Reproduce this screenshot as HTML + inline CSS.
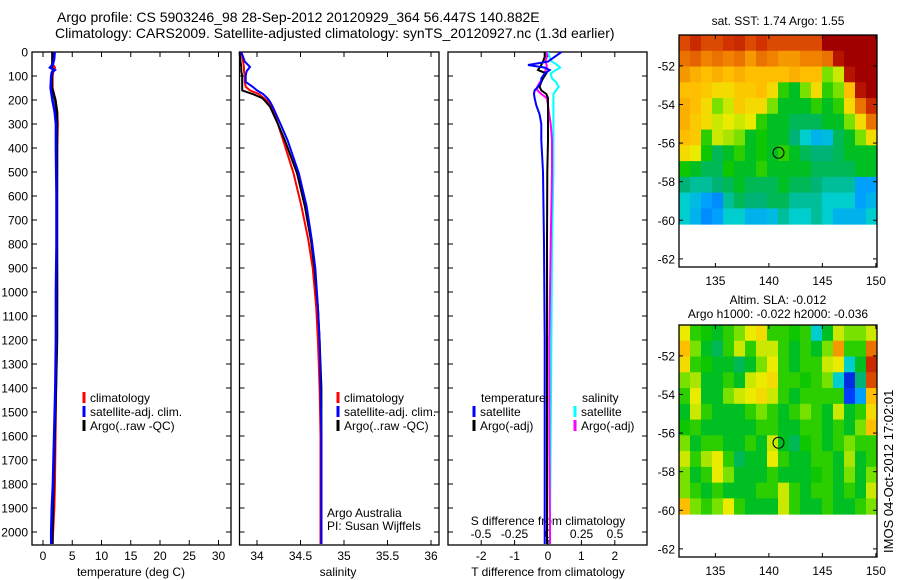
<!DOCTYPE html>
<html><head><meta charset="utf-8"><style>
html,body{margin:0;padding:0;background:#fff;}
svg{display:block;font-family:"Liberation Sans",sans-serif;}
</style></head><body>
<svg id="c" width="900" height="580" viewBox="0 0 900 580">
<g id="g"></g>
</svg>
<script>
// ---- data ----
const depT = [0,30,50,65,75,85,100,150,200,250,300,400,600,800,1000,1200,1400,1600,1800,1900,2000,2050];
const tClim = [1.7,1.7,1.6,2.0,1.9,1.7,1.6,1.6,2.1,2.4,2.5,2.4,2.35,2.35,2.4,2.3,2.2,2.1,2.0,1.9,1.7,1.6];
const tSat = [2.0,1.9,1.7,1.2,2.0,1.5,1.4,1.3,1.6,2.0,2.2,2.2,2.3,2.3,2.2,2.2,2.1,1.9,1.7,1.5,1.4,1.4];
const tArgo = [1.6,1.6,1.6,1.5,1.7,1.6,1.5,1.5,2.1,2.4,2.4,2.4,2.4,2.4,2.4,2.4,2.2,2.0,1.8,1.7,1.6,1.6];
const depS = [0,40,62,80,100,125,145,160,175,192,207,228,300,367,505,642,783,900,1062,1200,1400,1600,2000,2050];
const sClim = [33.82,33.84,33.85,33.85,33.86,33.86,33.87,33.92,34.02,34.08,34.13,34.17,34.24,34.30,34.42,34.51,34.59,34.64,34.68,34.70,34.72,34.73,34.73,34.73];
const sSat = [33.82,33.86,33.92,33.88,33.87,33.87,33.95,34.00,34.07,34.12,34.15,34.18,34.27,34.35,34.48,34.57,34.63,34.67,34.70,34.72,34.73,34.74,34.74,34.74];
const sArgo = [33.80,33.81,33.82,33.82,33.83,33.83,33.83,33.83,33.95,34.06,34.10,34.15,34.24,34.32,34.46,34.55,34.62,34.66,34.70,34.72,34.74,34.74,34.74,34.74];
const depD = [0,20,40,54,65,75,89,110,125,145,160,175,192,222,260,300,367,500,800,1200,1600,2000,2050];
const dTsat = [0.4,0.2,0.0,-0.6,-0.1,0.05,-0.1,-0.2,-0.2,-0.3,-0.4,-0.42,-0.4,-0.35,-0.25,-0.2,-0.2,-0.15,-0.12,-0.1,-0.1,-0.1,-0.1];
const dTargo = [-0.1,-0.1,-0.15,-0.2,-0.25,-0.3,-0.05,-0.15,-0.2,-0.25,-0.2,-0.05,0,0,0,0,0,-0.02,-0.03,-0.03,-0.03,-0.03,-0.03];
const dSsat = [0,0.01,0.03,0.07,0.09,0.06,0.02,0.03,0.06,0.08,0.06,0.04,0.04,0.04,0.04,0.04,0.04,0.04,0.03,0.025,0.02,0.015,0.01];
const dSargo = [-0.01,-0.01,-0.02,-0.01,-0.01,-0.02,-0.02,-0.04,-0.06,-0.08,-0.08,-0.05,-0.01,0,0.01,0.02,0.03,0.03,0.02,0.01,0.01,0.015,0.015];
const depthTicks = [0,100,200,300,400,500,600,700,800,900,1000,1100,1200,1300,1400,1500,1600,1700,1800,1900,2000];
const tempTicks = [0,5,10,15,20,25,30];
const salTicks = [34,34.5,35,35.5,36];
const tdTicks = [-2,-1,0,1,2];
const sdTicks = [-0.5,-0.25,0,0.25,0.5];
const sdLabels = ["-0.5","-0.25","0","0.25","0.5"];
const mapLonTicks = [135,140,145,150];
const mapLatTicks = [-52,-54,-56,-58,-60,-62];
const argoLon = 140.9, argoLat = -56.5;
const sstGrid = [
[.85,.9,.85,.85,.88,.9,.85,.88,.85,.85,.85,.85,.85,1,1,1,1,1],
[.8,.82,.78,.8,.78,.8,.75,.8,.78,.75,.75,.78,.78,.8,.95,1,1,1],
[.75,.72,.7,.72,.7,.72,.7,.7,.7,.7,.72,.7,.7,.55,.6,.95,1,1],
[.7,.7,.68,.65,.65,.68,.68,.7,.65,.5,.45,.55,.65,.5,.55,.7,.95,1],
[.72,.7,.65,.55,.6,.68,.65,.65,.55,.45,.45,.45,.5,.45,.5,.65,.8,.9],
[.72,.68,.65,.6,.62,.6,.62,.5,.45,.45,.42,.42,.42,.45,.45,.55,.65,.8],
[.7,.68,.5,.6,.58,.55,.45,.48,.45,.45,.4,.35,.32,.33,.42,.45,.55,.65],
[.65,.62,.48,.42,.45,.5,.45,.48,.45,.5,.45,.42,.4,.4,.42,.45,.45,.45],
[.48,.45,.42,.42,.48,.45,.45,.5,.45,.45,.45,.45,.42,.42,.42,.42,.45,.45],
[.4,.38,.38,.4,.42,.45,.42,.42,.42,.45,.42,.42,.4,.38,.38,.38,.3,.3],
[.35,.33,.3,.28,.38,.42,.4,.4,.42,.42,.38,.38,.38,.35,.35,.35,.3,.32],
[.35,.32,.28,.3,.35,.35,.32,.32,.33,.38,.35,.35,.38,.35,.32,.32,.32,.35]];
const slaGrid = [
[.62,.5,.48,.45,.5,.55,.62,.65,.5,.5,.48,.5,.35,.45,.6,.55,.55,.6],
[.7,.55,.45,.42,.5,.6,.5,.6,.6,.5,.45,.5,.45,.55,.75,.5,.5,.8],
[.65,.5,.48,.45,.45,.42,.45,.55,.62,.5,.45,.5,.5,.6,.62,.35,.45,.9],
[.55,.58,.45,.45,.5,.45,.6,.62,.65,.5,.5,.48,.5,.55,.35,.15,.4,.85],
[.5,.62,.45,.45,.55,.6,.62,.65,.6,.5,.45,.5,.5,.5,.5,.2,.3,.7],
[.45,.6,.5,.45,.45,.45,.5,.55,.5,.45,.5,.55,.5,.45,.6,.45,.5,.65],
[.48,.5,.45,.45,.45,.45,.45,.5,.5,.45,.45,.5,.5,.45,.5,.45,.55,.7],
[.55,.45,.5,.5,.45,.45,.5,.45,.6,.45,.42,.48,.5,.45,.5,.55,.5,.5],
[.6,.5,.58,.62,.5,.42,.45,.45,.62,.5,.45,.45,.5,.5,.45,.58,.45,.5],
[.55,.45,.5,.62,.55,.45,.45,.45,.5,.45,.45,.45,.48,.5,.45,.55,.45,.55],
[.55,.5,.45,.5,.45,.45,.45,.5,.5,.6,.5,.45,.5,.5,.45,.5,.45,.6],
[.7,.55,.5,.55,.62,.5,.45,.45,.45,.6,.5,.45,.45,.5,.45,.45,.5,.55]];

const NS="http://www.w3.org/2000/svg";
const G=document.getElementById('g');
function el(tag,attrs,parent){const e=document.createElementNS(NS,tag);for(const k in attrs)e.setAttribute(k,attrs[k]);(parent||G).appendChild(e);return e;}
function txt(x,y,s,size,anchor,name){const t=el('text',{x:x,y:y,'font-size':size,'text-anchor':anchor||'start',fill:'#000'});t.textContent=s;


return t;}

const Y0=52, YS=0.24, YB=545;
const yD=d=>Y0+d*YS;
const xT=t=>43+t*5.85;
const xS=s=>257+(s-34)*87;
const xTD=v=>548+v*33.4;
const xSD=v=>548+v*134;
const panels=[[32,231,'temperature-panel'],[239.5,439,'salinity-panel'],[448,647,'difference-panel']];

txt(57,22,'Argo profile: CS 5903246_98 28-Sep-2012 20120929_364 56.447S 140.882E',14,'start','title-line-1');
txt(55,38,'Climatology: CARS2009. Satellite-adjusted climatology: synTS_20120927.nc (1.3d earlier)',14,'start','title-line-2');

panels.forEach((p,i)=>{
  const r=el('rect',{x:p[0],y:Y0,width:p[1]-p[0],height:YB-Y0,fill:'none',stroke:'#000','stroke-width':1.3});
  
  
  depthTicks.forEach(d=>{
    el('line',{x1:p[0],x2:p[0]+5,y1:yD(d),y2:yD(d),stroke:'#000'});
    el('line',{x1:p[1],x2:p[1]-5,y1:yD(d),y2:yD(d),stroke:'#000'});
  });
});
depthTicks.forEach(d=>txt(28,yD(d)+4.5,String(d),12,'end','depth-tick-label'));

function xticks(arr,fx,labels,ylab,name){arr.forEach((v,i)=>{const x=fx(v);
  el('line',{x1:x,x2:x,y1:Y0,y2:Y0+5,stroke:'#000'});el('line',{x1:x,x2:x,y1:YB,y2:YB-5,stroke:'#000'});
  if(ylab) txt(x,ylab,labels?labels[i]:String(v),12,'middle',name);});}
xticks(tempTicks,xT,null,560,'temp-tick-label');
xticks(salTicks,xS,null,560,'salinity-tick-label');
xticks(tdTicks,xTD,null,560,'tdiff-tick-label');
sdTicks.forEach((v,i)=>txt(xSD(v),538,sdLabels[i],12,'middle','sdiff-tick-label'));
txt(131,576,'temperature (deg C)',12,'middle','temperature-axis-title');
txt(338,576,'salinity',12,'middle','salinity-axis-title');
txt(548,576,'T difference from climatology',12,'middle','tdiff-axis-title');
txt(548,525,'S difference from climatology',12,'middle','sdiff-axis-title');

function line(dep,vals,fx,color,w,name){const pts=dep.map((d,i)=>fx(vals[i]).toFixed(1)+','+yD(d).toFixed(1)).join(' ');
  const l=el('polyline',{points:pts,fill:'none',stroke:color,'stroke-width':w});
  
  }
line(depT,tClim,xT,'#f00',2.5,'temp-climatology-line');
line(depT,tArgo,xT,'#000',2.5,'temp-argo-line');
line(depT,tSat,xT,'#00f',2.5,'temp-satellite-line');
line(depS,sClim,xS,'#f00',2,'salinity-climatology-line');
line(depS,sArgo,xS,'#000',2,'salinity-argo-line');
line(depS,sSat,xS,'#00f',2,'salinity-satellite-line');
line(depD,dSsat,xSD,'#0ff',2,'sdiff-satellite-line');
line(depD,dSargo,xSD,'#f0f',2,'sdiff-argo-line');
line(depD,dTargo,xTD,'#000',2,'tdiff-argo-line');
line(depD,dTsat,xTD,'#00f',2,'tdiff-satellite-line');

function leg(x,y,color,label,name){el('rect',{x:x-1.5,y:y-10,width:3,height:11,fill:color});txt(x+6,y,label,12,'start',name);}
leg(84,402,'#f00','climatology','legend-climatology');
leg(84,416,'#00f','satellite-adj. clim.','legend-satellite-adj');
leg(84,430,'#000','Argo(..raw -QC)','legend-argo');
leg(338,402,'#f00','climatology','legend-climatology-sal');
leg(338,416,'#00f','satellite-adj. clim.','legend-satellite-adj-sal');
leg(338,430,'#000','Argo(..raw -QC)','legend-argo-sal');
txt(481,402,'temperature',12,'start','legend-temperature-header');
leg(474,416,'#00f','satellite','legend-tdiff-satellite');
leg(474,430,'#000','Argo(-adj)','legend-tdiff-argo');
txt(582,402,'salinity',12,'start','legend-salinity-header');
leg(575,416,'#0ff','satellite','legend-sdiff-satellite');
leg(575,430,'#f0f','Argo(-adj)','legend-sdiff-argo');
txt(327,517,'Argo Australia',12,'start','credit-argo-australia');
txt(327,530,'PI: Susan Wijffels',12,'start','credit-pi');

// colormap stops resembling the reference palette
const cStops=[[0,[0,0,140]],[0.2,[0,60,255]],[0.3,[0,160,255]],[0.35,[0,205,205]],[0.4,[0,180,120]],[0.47,[0,195,0]],[0.55,[120,225,0]],[0.62,[235,235,0]],[0.7,[255,190,0]],[0.78,[240,130,0]],[0.88,[210,50,0]],[1,[160,0,0]]];
function cmap(v){for(let i=1;i<cStops.length;i++){if(v<=cStops[i][0]){const a=cStops[i-1],b=cStops[i],t=(v-a[0])/(b[0]-a[0]);
  const c=a[1].map((x,k)=>Math.round(x+(b[1][k]-x)*t));return `rgb(${c[0]},${c[1]},${c[2]})`;}}return 'rgb(160,0,0)';}
function map(top,bottom,grid,name){
  const L=679,R=877,lon0=131.6,lat0=-50.4,px=10.7,py=19.3;
  const mx=lo=>L+(lo-lon0)*px, my=la=>top+(lat0-la)*py;
  const dataBottom=my(-60.2);
  const rows=grid.length, cols=grid[0].length, cw=(R-L)/cols, ch=(dataBottom-top)/rows;
  grid.forEach((row,j)=>row.forEach((v,i)=>{const c=el('rect',{x:L+i*cw,y:top+j*ch,width:cw+0.5,height:ch+0.5,fill:cmap(v)});
    
    }));
  const f=el('rect',{x:L,y:top,width:R-L,height:bottom-top,fill:'none',stroke:'#000','stroke-width':1.3});
  
  
  mapLonTicks.forEach(lo=>{el('line',{x1:mx(lo),x2:mx(lo),y1:bottom,y2:bottom-4,stroke:'#000'});el('line',{x1:mx(lo),x2:mx(lo),y1:top,y2:top+4,stroke:'#000'});
    txt(mx(lo),bottom+18,String(lo),12,'middle','map-lon-label');});
  mapLatTicks.forEach(la=>{el('line',{x1:L,x2:L+4,y1:my(la),y2:my(la),stroke:'#000'});el('line',{x1:R,x2:R-4,y1:my(la),y2:my(la),stroke:'#000'});
    txt(L-4,my(la)+4.5,String(la),12,'end','map-lat-label');});
  const c=el('circle',{cx:mx(argoLon),cy:my(argoLat),r:5.5,fill:'none',stroke:'#000','stroke-width':1});
  
  
}
map(35,267,sstGrid,'sst-map');
map(325,557,slaGrid,'sla-map');
txt(778,25,'sat. SST: 1.74  Argo: 1.55',12,'middle','sst-map-title');
txt(778,304,'Altim. SLA: -0.012',12,'middle','sla-map-title');
txt(778,318,'Argo h1000: -0.022 h2000: -0.036',12,'middle','sla-map-subtitle');
const v=txt(0,0,'IMOS 04-Oct-2012 17:02:01',13,'start','imos-timestamp');
v.setAttribute('transform','translate(893,553) rotate(-90)');
</script>
</body></html>
